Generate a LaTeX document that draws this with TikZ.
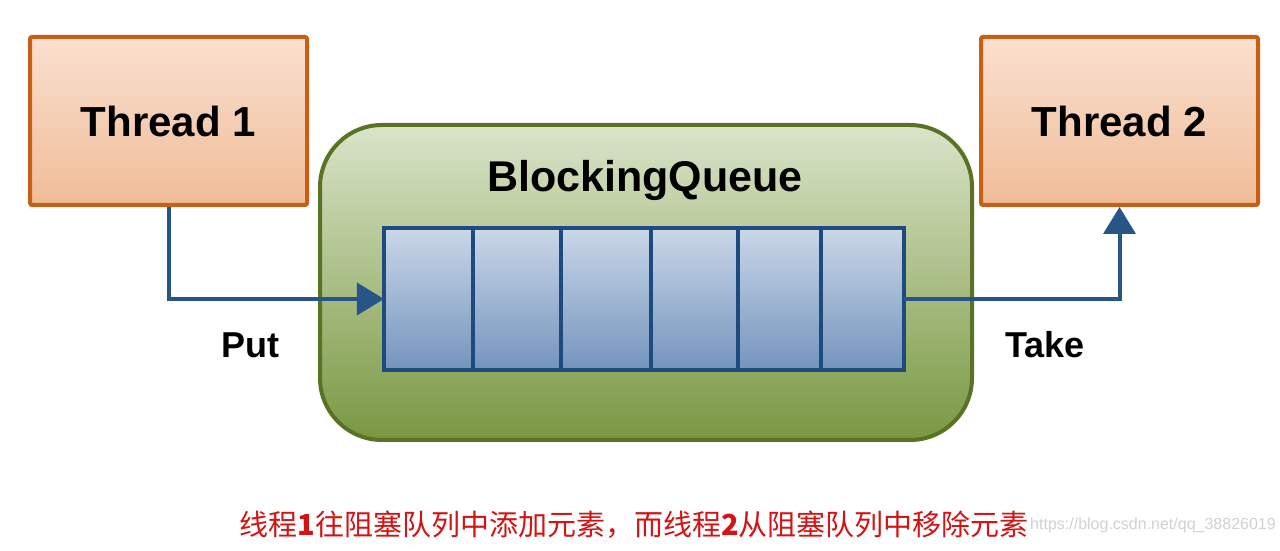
\documentclass[tikz,border=0pt]{standalone}
\usepackage{fontspec}
\setmainfont{Liberation Sans}
\newfontfamily\cjk{Noto Sans CJK SC}
\usetikzlibrary{arrows.meta}

\definecolor{thdraw}{RGB}{200,95,20}
\definecolor{thtop}{RGB}{250,224,207}
\definecolor{thbot}{RGB}{240,188,152}
\definecolor{bqdraw}{RGB}{88,115,35}
\definecolor{bqtop}{RGB}{218,228,202}
\definecolor{bqbot}{RGB}{122,152,66}
\definecolor{celldraw}{RGB}{30,75,125}
\definecolor{celltop}{RGB}{202,215,231}
\definecolor{cellbot}{RGB}{116,148,190}
\definecolor{flow}{RGB}{40,85,135}
\definecolor{note}{RGB}{210,20,20}

\begin{document}
\begin{tikzpicture}[
  x=1pt,y=1pt,
  thread/.style={rectangle,draw=thdraw,line width=4pt,rounded corners=2pt,top color=thtop,bottom color=thbot,
    minimum width=277pt,minimum height=168pt,inner sep=0pt,font=\fontsize{42}{50}\selectfont\bfseries},
  queuebox/.style={rectangle,draw=bqdraw,line width=4pt,rounded corners=62pt,top color=bqtop,bottom color=bqbot,
    minimum width=652pt,minimum height=315pt,inner sep=0pt},
  cell/.style={rectangle,draw=celldraw,line width=4pt,top color=celltop,bottom color=cellbot,
    minimum height=142pt,inner sep=0pt,outer sep=0pt},
  flowline/.style={draw=flow,line width=4pt,-{Triangle[length=27pt,width=32pt]}},
  opname/.style={font=\fontsize{36}{42}\selectfont\bfseries}
]
  \useasboundingbox (0,0) rectangle (1280,551);
  \fill[white] (0,0) rectangle (1280,551);
  % threads and queue
  \node[thread] (t1) at (168.5,430) {Thread 1};
  \node[thread] (t2) at (1119.5,430) {Thread 2};
  \node[queuebox] (bq) at (646,268.5) {};
  \node[font=\fontsize{43}{50}\selectfont\bfseries] (bqname) at (645,371) {BlockingQueue};
  \node[cell,minimum width=89.5pt] (c1) at (428.7,252) {};
  \node[cell,minimum width=87.5pt] (c2) at (517.2,252) {};
  \node[cell,minimum width=89.6pt] (c3) at (605.8,252) {};
  \node[cell,minimum width=87.7pt] (c4) at (694.4,252) {};
  \node[cell,minimum width=82.4pt] (c5) at (779.5,252) {};
  \node[cell,minimum width=83.5pt] (c6) at (862.5,252) {};
  % put and take
  \draw[flowline] (t1.south) |- (c1.west);
  \draw[flowline] (c6.east) -| (t2.south);
  \node[opname] (put) at (250,206) {Put};
  \node[opname] (take) at (1045,206) {Take};
  % caption
  \node[text=note,font=\cjk\fontsize{29}{34}\selectfont] (cap) at (634,26) {线程\textbf{1}往阻塞队列中添加元素，而线程\textbf{2}从阻塞队列中移除元素};
  \node[text=black!18,font=\fontsize{16}{20}\selectfont] (mark) at (1153,26) {https://blog.csdn.net/qq\_38826019};
\end{tikzpicture}
\end{document}
